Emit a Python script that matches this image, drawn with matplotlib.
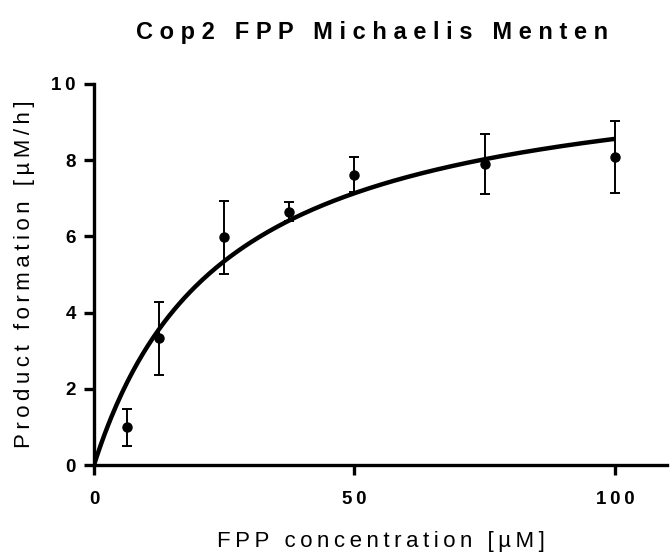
import numpy as np
import matplotlib
matplotlib.use("Agg")
import matplotlib.pyplot as plt

plt.rcParams['font.family'] = ['Liberation Sans', 'DejaVu Sans']

# measured data (mean +/- SD)
conc = [6.25, 12.5, 25, 37.5, 50, 75, 100]
rate = [0.99, 3.34, 5.98, 6.64, 7.61, 7.90, 8.08]
err_hi = [1.46, 4.29, 6.94, 6.89, 8.08, 8.69, 9.03]
err_lo = [0.51, 2.36, 5.01, 6.40, 7.16, 7.11, 7.14]

# Michaelis-Menten fit parameters
VMAX = 10.7
KM = 25.0

xticks = [0, 50, 100]
yticks = [0, 2, 4, 6, 8, 10]


def spaced(s, sep="\u2009"):
  return sep.join(list(s))


fig = plt.figure(figsize=(6.7, 5.6), dpi=100)
ax = fig.add_axes([94 / 670, 1 - 465 / 560, (667 - 94) / 670, (465 - 84) / 560])

xs = np.linspace(0, max(conc), 300)
ax.plot(xs, VMAX * xs / (KM + xs), color="black", lw=3.2, solid_capstyle="butt", zorder=2)

rate = np.array(rate)
yerr = [rate - np.array(err_lo), np.array(err_hi) - rate]
ax.errorbar(conc, rate, yerr=yerr, fmt="o", color="black", ms=6.5,
            elinewidth=1.4, capsize=3.5, capthick=1.4, zorder=3)

ax.set_xlim(0, 110)
ax.set_ylim(0, 10)
for side in ["top", "right"]:
  ax.spines[side].set_visible(False)
for side in ["left", "bottom"]:
  ax.spines[side].set_linewidth(2.4)
ax.tick_params(direction="out", length=7, width=2.4, pad=6)
ax.set_xticks(xticks)
ax.set_xticklabels([spaced(str(t)) for t in xticks], fontsize=13.5, fontweight="bold")
ax.set_yticks(yticks)
ax.set_yticklabels([spaced(str(t)) for t in yticks], fontsize=13.5, fontweight="bold")
ax.tick_params(axis="x", pad=12)

ax.set_xlabel(spaced("FPP concentration [\u00b5M]"), fontsize=16, labelpad=16)
ax.set_ylabel(spaced("Product formation [\u00b5M/h]"), fontsize=16, labelpad=12)

fig.text(372 / 670, 1 - 33 / 560, spaced("Cop2 FPP Michaelis Menten", " "),
         ha="center", va="center", fontsize=17, fontweight="bold")

fig.savefig("out.png", dpi=100)
